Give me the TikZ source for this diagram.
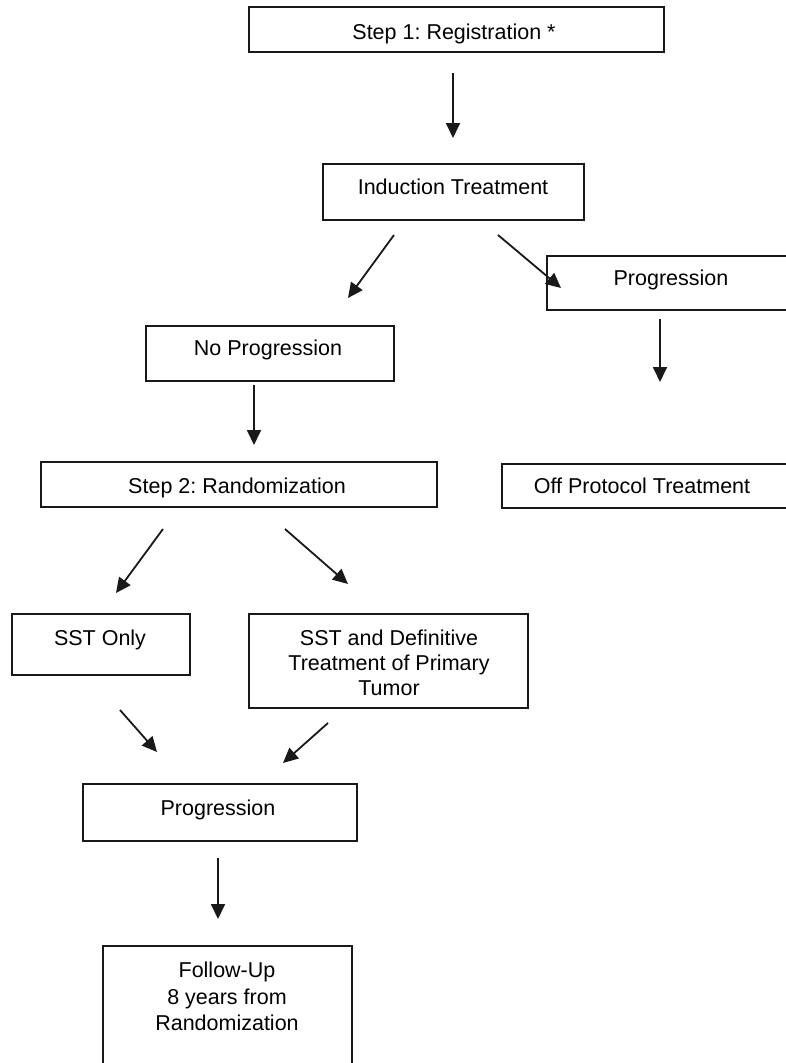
\documentclass[tikz,border=0pt]{standalone}
\usepackage{fontspec}
\setmainfont{Liberation Sans}
\usetikzlibrary{arrows.meta}
\frenchspacing
\begin{document}
\begin{tikzpicture}[x=1pt,y=-1pt,
  box/.style={draw=black!90, line width=1.8pt, rectangle, inner sep=0pt},
  txt/.style={font=\fontsize{21.5}{25}\selectfont, inner sep=0pt, anchor=base},
  mtxt/.style={font=\fontsize{21.5}{25}\selectfont, inner sep=0pt, align=center},
  arr/.style={draw=black!90, line width=1.8pt, -{Triangle[length=15pt,width=14pt]}}]
\useasboundingbox (0,0) rectangle (786,1063);
\clip (0,0) rectangle (786,1063);
% boxes
\node[box, minimum width=415pt, minimum height=45pt] (b1) at (456.5,29.5) {};
\node[box, minimum width=261pt, minimum height=56pt] (b2) at (453.5,192) {};
\node[box, minimum width=253pt, minimum height=54pt] (b3) at (673.5,283) {};
\node[box, minimum width=248pt, minimum height=55pt] (b4) at (270,353.5) {};
\node[box, minimum width=396pt, minimum height=45pt] (b5) at (239,484.5) {};
\node[box, minimum width=298pt, minimum height=44pt] (b6) at (651,486) {};
\node[box, minimum width=178pt, minimum height=61pt] (b7) at (101,644.5) {};
\node[box, minimum width=279pt, minimum height=94pt] (b8) at (388.5,661) {};
\node[box, minimum width=274pt, minimum height=57pt] (b9) at (220,812.5) {};
\node[box, minimum width=249pt, minimum height=134pt] (b10) at (227.5,1013) {};
% texts
\node[txt] (t1) at (454,39.5) {Step 1: Registration *};
\node[txt] (t2) at (453,194.5) {Induction Treatment};
\node[txt] (t3) at (671,285.5) {Progression};
\node[txt] (t4) at (268,355.5) {No Progression};
\node[txt] (t5) at (237,493.5) {Step 2: Randomization};
\node[txt] (t6) at (642,493.5) {Off Protocol Treatment};
\node[txt] (t7) at (100,645.5) {SST Only};
\node[mtxt] (t8) at (389,663) {SST and Definitive\\Treatment of Primary\\Tumor};
\node[txt] (t9) at (218,815.5) {Progression};
\node[mtxt, font=\fontsize{21.5}{26.5}\selectfont] (t10) at (227,996.5) {Follow-Up\\8 years from\\Randomization};
% arrow end points
\coordinate (a1s) at (453,73);  \coordinate (a1e) at (453,138);
\coordinate (a2s) at (394,235); \coordinate (a2e) at (348,298);
\coordinate (a3s) at (498,235); \coordinate (a3e) at (561,288);
\coordinate (a4s) at (660,319); \coordinate (a4e) at (660,382);
\coordinate (a5s) at (254,385); \coordinate (a5e) at (254,445);
\coordinate (a6s) at (163,529); \coordinate (a6e) at (116,593);
\coordinate (a7s) at (285,529); \coordinate (a7e) at (348,584);
\coordinate (a8s) at (120,710); \coordinate (a8e) at (157,752);
\coordinate (a9s) at (328,723); \coordinate (a9e) at (283,763);
\coordinate (a10s) at (218,858); \coordinate (a10e) at (218,919);
\draw[arr] (a1s) -- (a1e);
\draw[arr] (a2s) -- (a2e);
\draw[arr] (a3s) -- (a3e);
\draw[arr] (a4s) -- (a4e);
\draw[arr] (a5s) -- (a5e);
\draw[arr] (a6s) -- (a6e);
\draw[arr] (a7s) -- (a7e);
\draw[arr] (a8s) -- (a8e);
\draw[arr] (a9s) -- (a9e);
\draw[arr] (a10s) -- (a10e);
\end{tikzpicture}
\end{document}
